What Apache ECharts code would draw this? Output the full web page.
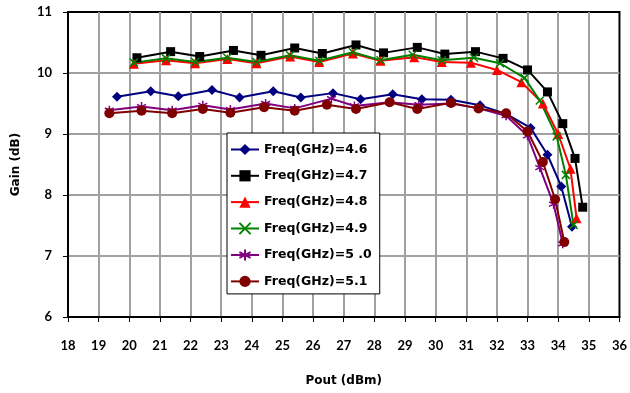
<!DOCTYPE html>
<html>
<head>
<meta charset="utf-8">
<script src="https://cdn.jsdelivr.net/npm/echarts@6/dist/echarts.min.js"></script>
<style>
  html, body { margin: 0; padding: 0; background: #fff; }
  #gain { width: 630px; height: 393px; }
</style>
</head>
<body>
<div id="gain"></div>
<script>
// 数据
var xTicks = [18, 19, 20, 21, 22, 23, 24, 25, 26, 27, 28, 29, 30, 31, 32, 33, 34, 35, 36];
var yTicks = [6, 7, 8, 9, 10, 11];
var freqNames = ['Freq(GHz)=4.6', 'Freq(GHz)=4.7', 'Freq(GHz)=4.8', 'Freq(GHz)=4.9', 'Freq(GHz)=5 .0', 'Freq(GHz)=5.1'];

var pout46 = [19.6, 20.7, 21.6, 22.7, 23.6, 24.7, 25.6, 26.65, 27.55, 28.6, 29.55, 30.5, 31.45, 32.3, 33.1, 33.65, 34.1, 34.45];
var gain46 = [9.61, 9.70, 9.62, 9.72, 9.60, 9.70, 9.60, 9.67, 9.57, 9.65, 9.57, 9.56, 9.47, 9.33, 9.10, 8.66, 8.14, 7.48];

var pout47 = [20.25, 21.35, 22.3, 23.4, 24.3, 25.4, 26.3, 27.4, 28.3, 29.4, 30.3, 31.3, 32.2, 33.0, 33.65, 34.15, 34.55, 34.8];
var gain47 = [10.25, 10.35, 10.27, 10.37, 10.29, 10.41, 10.32, 10.46, 10.33, 10.42, 10.31, 10.35, 10.24, 10.05, 9.69, 9.17, 8.6, 7.8];

var pout48 = [20.15, 21.2, 22.15, 23.2, 24.15, 25.25, 26.2, 27.3, 28.2, 29.3, 30.2, 31.15, 32.0, 32.8, 33.5, 34.0, 34.4, 34.6];
var gain48 = [10.15, 10.21, 10.16, 10.23, 10.16, 10.27, 10.18, 10.32, 10.2, 10.26, 10.18, 10.17, 10.05, 9.85, 9.5, 9.0, 8.43, 7.62];

var pout49 = [20.15, 21.2, 22.15, 23.2, 24.15, 25.25, 26.2, 27.3, 28.2, 29.25, 30.2, 31.25, 32.1, 32.9, 33.4, 33.95, 34.25, 34.5];
var gain49 = [10.17, 10.24, 10.18, 10.25, 10.18, 10.29, 10.2, 10.34, 10.21, 10.3, 10.21, 10.25, 10.16, 9.92, 9.55, 8.96, 8.33, 7.51];

var pout50 = [19.35, 20.4, 21.4, 22.4, 23.3, 24.45, 25.4, 26.6, 27.35, 28.5, 29.45, 30.5, 31.4, 32.3, 33.0, 33.4, 33.85, 34.15];
var gain50 = [9.39, 9.45, 9.39, 9.47, 9.4, 9.5, 9.42, 9.58, 9.46, 9.52, 9.48, 9.5, 9.42, 9.3, 8.97, 8.45, 7.85, 7.2];

var pout51 = [19.35, 20.4, 21.4, 22.4, 23.3, 24.4, 25.4, 26.45, 27.4, 28.5, 29.4, 30.5, 31.4, 32.3, 33.0, 33.5, 33.9, 34.2];
var gain51 = [9.34, 9.38, 9.34, 9.41, 9.35, 9.44, 9.38, 9.48, 9.41, 9.52, 9.41, 9.51, 9.42, 9.34, 9.04, 8.54, 7.93, 7.23];

var zip = function (xs, ys) {
    return xs.map(function (x, i) { return [x, ys[i]]; });
};

var font = 'Lato, "DejaVu Sans", sans-serif';
var wideFont = '"DejaVu Sans", sans-serif';
var xMark = 'path://M0,0L10,10M10,0L0,10';
var starMark = 'path://M5,0L5,10M0,2.5L10,7.5M0,7.5L10,2.5';

var makeSeries = function (name, data, color, symbol, size, stroke) {
    return {
        name: name,
        type: 'line',
        data: data,
        symbol: symbol,
        symbolSize: size,
        lineStyle: { color: color, width: 2 },
        itemStyle: { color: color, borderColor: color, borderWidth: stroke ? 1.5 : 0 },
        emphasis: { disabled: true },
        animation: false
    };
};

var chart = echarts.init(document.getElementById('gain'));
chart.setOption({
    animation: false,
    grid: {
        left: 68, right: 9, top: 12, bottom: 76,
        show: true, borderColor: '#000', borderWidth: 2, backgroundColor: '#fff'
    },
    legend: {
        orient: 'vertical',
        left: 227, top: 133,
        padding: [10, 8, 6, 3],
        itemWidth: 28, itemHeight: 14, itemGap: 13.3,
        backgroundColor: '#fff',
        borderColor: '#000', borderWidth: 1,
        textStyle: { fontFamily: wideFont, fontWeight: 'bold', fontSize: 12.5, color: '#000' },
        data: freqNames
    },
    xAxis: {
        type: 'value',
        min: xTicks[0], max: xTicks[xTicks.length - 1], interval: 1,
        name: 'Pout (dBm)', nameLocation: 'middle', nameGap: 58,
        nameTextStyle: { fontFamily: wideFont, fontWeight: 'bold', fontSize: 12, color: '#000' },
        axisLine: { lineStyle: { color: '#000', width: 2 } },
        axisTick: { show: true, length: 5, lineStyle: { color: '#000', width: 1 } },
        axisLabel: { margin: 22, fontFamily: font, fontWeight: 'bold', fontSize: 13, color: '#000' },
        splitLine: { show: true, showMinLine: false, showMaxLine: false, lineStyle: { color: '#a0a0a0', width: 2 } }
    },
    yAxis: {
        type: 'value',
        min: yTicks[0], max: yTicks[yTicks.length - 1], interval: 1,
        name: 'Gain (dB)', nameLocation: 'middle', nameGap: 46,
        nameTextStyle: { fontFamily: wideFont, fontWeight: 'bold', fontSize: 12, color: '#000' },
        axisLine: { show: true, lineStyle: { color: '#000', width: 2 } },
        axisTick: { show: true, length: 5, lineStyle: { color: '#000', width: 1 } },
        axisLabel: { margin: 16, fontFamily: font, fontWeight: 'bold', fontSize: 13, color: '#000' },
        splitLine: { show: true, showMinLine: false, showMaxLine: false, lineStyle: { color: '#a0a0a0', width: 2 } }
    },
    series: [
        makeSeries(freqNames[0], zip(pout46, gain46), '#000080', 'diamond', 10, false),
        makeSeries(freqNames[1], zip(pout47, gain47), '#000000', 'rect', 9, false),
        makeSeries(freqNames[2], zip(pout48, gain48), '#ff0000', 'triangle', 10, false),
        makeSeries(freqNames[3], zip(pout49, gain49), '#008000', xMark, 8, true),
        makeSeries(freqNames[4], zip(pout50, gain50), '#800080', starMark, 9, true),
        makeSeries(freqNames[5], zip(pout51, gain51), '#800000', 'circle', 10, false)
    ]
});
</script>
</body>
</html>
